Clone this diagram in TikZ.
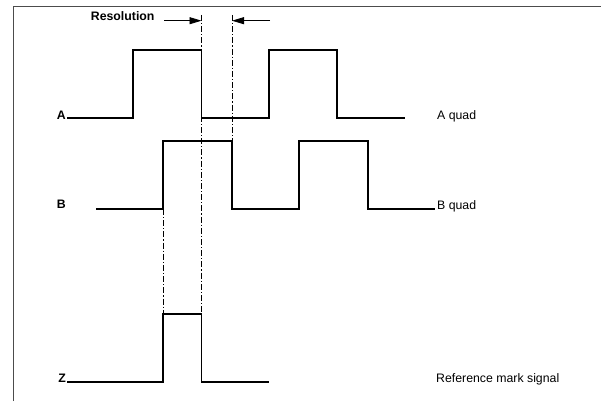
\documentclass[tikz,border=0pt]{standalone}
\usepackage{fontspec}
\setmainfont{Liberation Sans}
\usetikzlibrary{arrows.meta}
\begin{document}
\begin{tikzpicture}[x=1pt,y=-1pt,
  signal/.style={line width=1.6pt, black, line join=miter},
  frameline/.style={line width=1pt, black!70},
  guide/.style={line width=0.8pt, black, dash pattern=on 6pt off 2pt on 1.2pt off 2pt},
  lbl/.style={inner sep=0pt, font=\fontsize{12.3}{14}\selectfont},
  blbl/.style={inner sep=0pt, font=\fontsize{12.3}{14}\selectfont\bfseries},
  resarrow/.style={line width=0.8pt, -{Triangle[length=12pt,width=7pt]}}]
\useasboundingbox (0,0) rectangle (601,401);
% frame
\draw[frameline] (13,401) -- (13,7) -- (601,7);
% guides
\draw[guide] (201.5,15) -- (201.5,314);
\draw[guide] (232,15) -- (232,141);
\draw[guide] (163,209) -- (163,314);
% signals
\draw[signal] (67,118) -- (133,118) -- (133,50) -- (201.5,50) -- (201.5,118) -- (269,118) -- (269,50) -- (337,50) -- (337,118) -- (405,118);
\draw[signal] (96,209) -- (163,209) -- (163,141) -- (232,141) -- (232,209) -- (299,209) -- (299,141) -- (368,141) -- (368,209) -- (435,209);
\draw[signal] (67,382) -- (163,382) -- (163,314) -- (201.5,314) -- (201.5,382) -- (269,382);
% labels
\node[blbl, anchor=base east] (la) at (66,119) {A};
\node[blbl, anchor=base east] (lb) at (66,208) {B};
\node[blbl, anchor=base east] (lz) at (66,382.5) {Z};
\node[lbl, anchor=base west] (qa) at (437,119) {A quad};
\node[lbl, anchor=base west] (qb) at (437,209) {B quad};
\node[lbl, anchor=base west] (rm) at (436,382.5) {Reference mark signal};
\node[blbl, anchor=base west] (res) at (90.7,21) {Resolution};
% resolution arrows
\coordinate (a1s) at (164,20.7);
\coordinate (a1e) at (201.5,20.7);
\coordinate (a2s) at (270,20.7);
\coordinate (a2e) at (232,20.7);
\draw[resarrow] (a1s) -- (a1e);
\draw[resarrow] (a2s) -- (a2e);
\end{tikzpicture}
\end{document}
